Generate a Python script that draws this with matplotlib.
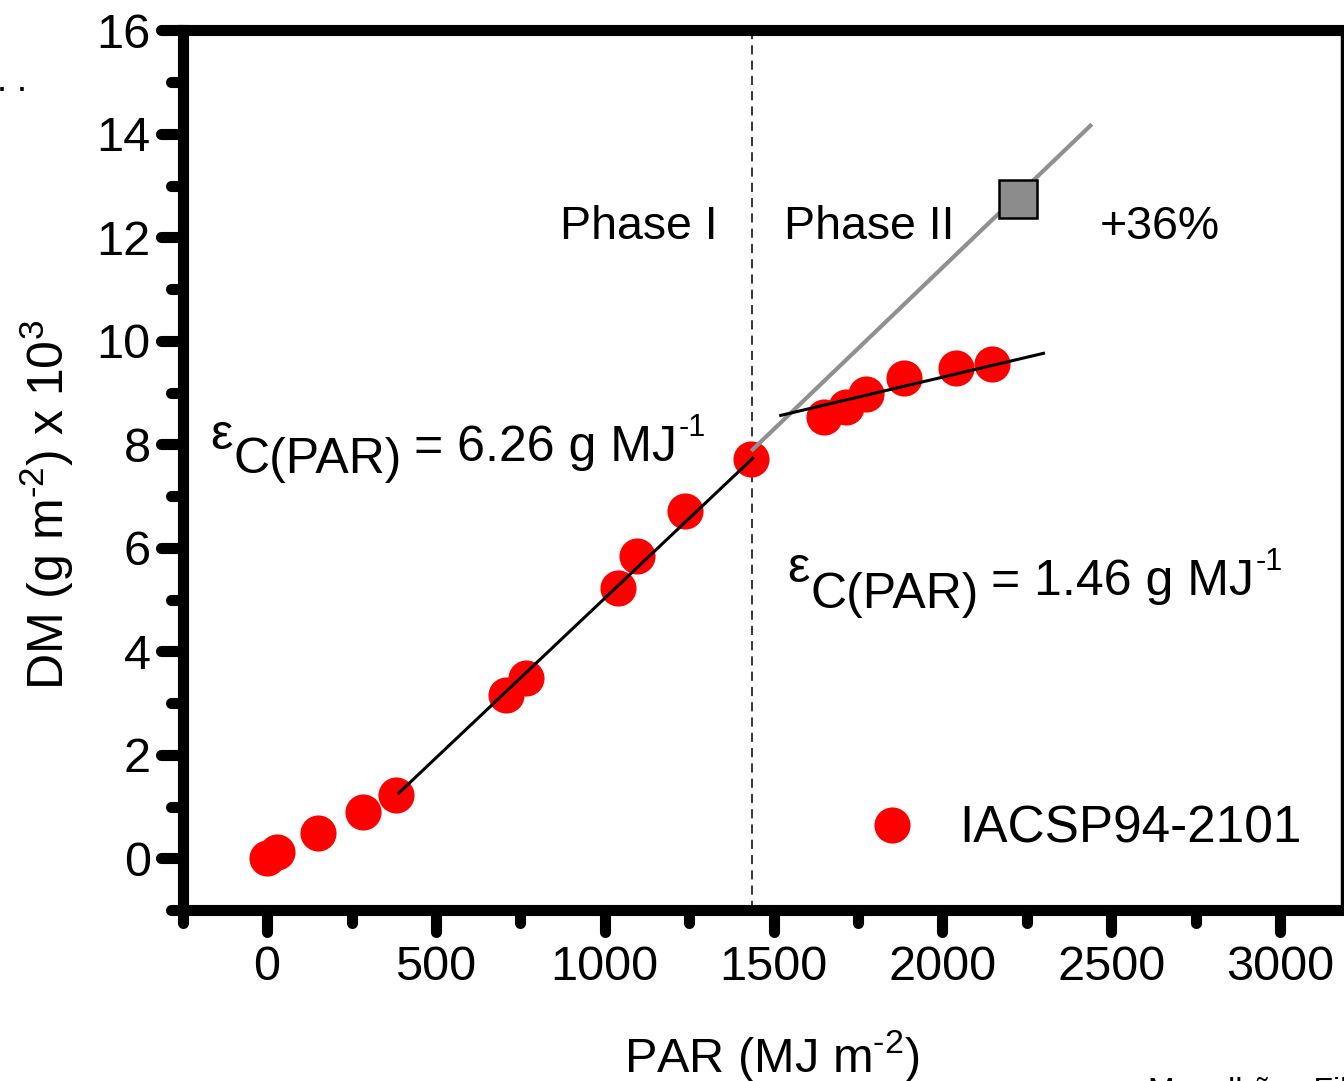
import matplotlib
matplotlib.use("Agg")
import matplotlib.pyplot as plt
import numpy as np
from matplotlib.ticker import MultipleLocator
from matplotlib.markers import MarkerStyle

plt.rcParams["font.family"] = ["Liberation Sans", "DejaVu Sans"]
plt.rcParams["mathtext.fontset"] = "custom"
plt.rcParams["mathtext.rm"] = "Liberation Sans"

# measured points (PAR in MJ m-2, DM in g m-2 x 10^3)
par = [0, 30, 151, 284, 382, 707, 766, 1038, 1095, 1237, 1432,
       1648, 1713, 1775, 1885, 2041, 2148]
dm = [0.0, 0.12, 0.48, 0.89, 1.22, 3.15, 3.48, 5.22, 5.84, 6.71, 7.71,
      8.52, 8.73, 8.97, 9.28, 9.47, 9.55]

# fitted lines
fit1_x = [390, 1438]
fit1_y = [1.26, 7.73]
fit2_x = [1521, 2299]
fit2_y = [8.56, 9.76]
pot_x = [1438, 2438]
pot_y = [7.90, 14.16]
pot_pt_x = [2225]
pot_pt_y = [12.75]
phase_break = 1435

fig = plt.figure(figsize=(13.44, 10.81), dpi=100)
ax = fig.add_axes([0.1359, 0.1582, 0.8626, 0.8136])

ax.plot(par, dm, "o", color="red", markersize=26, markeredgewidth=0,
        label="IACSP94-2101", zorder=2)
ax.plot(pot_x, pot_y, color="#909090", lw=3, zorder=3)
ax.plot(pot_pt_x, pot_pt_y, "s", color="#8c8c8c", markersize=28,
        markeredgecolor="black", markeredgewidth=1.8, zorder=4)
ax.plot(fit1_x, fit1_y, color="black", lw=2.2, zorder=3)
ax.plot(fit2_x, fit2_y, color="black", lw=2.2, zorder=3)
ax.axvline(phase_break, color="black", lw=1.1, ls=(0, (6, 4)), zorder=1)

ax.set_xlim(-250, 3183)
ax.set_ylim(-1, 16)
ax.set_xticks(np.arange(0, 3001, 500))
ax.set_yticks(np.arange(0, 17, 2))
ax.xaxis.set_minor_locator(MultipleLocator(250))
ax.yaxis.set_minor_locator(MultipleLocator(1))

for s in ["left", "bottom", "top"]:
    ax.spines[s].set_linewidth(8)
ax.spines["right"].set_linewidth(2.5)

ax.tick_params(which="major", direction="out", length=16, width=8, labelsize=35)
ax.tick_params(which="minor", direction="out", length=9, width=8)
ax.tick_params(axis="x", which="major", pad=9)
ax.tick_params(axis="y", which="major", pad=7)

for ln in (ax.xaxis.get_ticklines() + ax.yaxis.get_ticklines()
           + ax.xaxis.get_ticklines(minor=True) + ax.yaxis.get_ticklines(minor=True)):
    ln.set_marker(MarkerStyle(ln.get_marker(), capstyle="round"))

ax.set_xlabel("PAR (MJ m$^{\\mathregular{\u20102}}$)", fontsize=35)
ax.set_ylabel("DM (g m$^{\\mathregular{\u20102}}$) x 10$^{\\mathregular{3}}$", fontsize=36)
ax.xaxis.set_label_coords(0.508, -0.135)
ax.yaxis.set_label_coords(-0.092, 0.46)

ax.text(868, 11.97, "Phase I", fontsize=33.5)
ax.text(1531, 11.97, "Phase II", fontsize=33.5)
ax.text(2467, 11.97, "+36%", fontsize=33.5)


def rue_label(x, y, value, drop):
    fs = 36
    e = ax.annotate("ε", xy=(x, y), xytext=(0, drop), textcoords="offset pixels",
                    fontsize=fs, va="baseline", ha="left")
    sub = ax.annotate("C(PAR)", xy=(1, 0), xycoords=e, xytext=(1, -2 * drop),
                      textcoords="offset pixels", fontsize=fs, va="bottom", ha="left")
    main = ax.annotate("= " + value + " g MJ", xy=(1, 0), xycoords=sub,
                       xytext=(12, drop), textcoords="offset pixels",
                       fontsize=fs, va="bottom", ha="left")
    ax.annotate("-1", xy=(1, 1), xycoords=main, xytext=(2, 12),
                textcoords="offset pixels", fontsize=22, va="top", ha="left")


rue_label(-169, 7.68, "6.26", 12)
rue_label(1540, 5.08, "1.46", 13)

ax.legend(loc="center right", bbox_to_anchor=(0.965, 0.092), frameon=False,
          fontsize=37, handletextpad=0.7, borderpad=0, handlelength=1.2,
          borderaxespad=0)

fig.text(-0.002, 0.9158, ". .", fontsize=26)
fig.text(1148 / 1344, 4 / 1081, "Magalhães Filho", fontsize=23, va="top")

fig.savefig("out.png", dpi=100)
